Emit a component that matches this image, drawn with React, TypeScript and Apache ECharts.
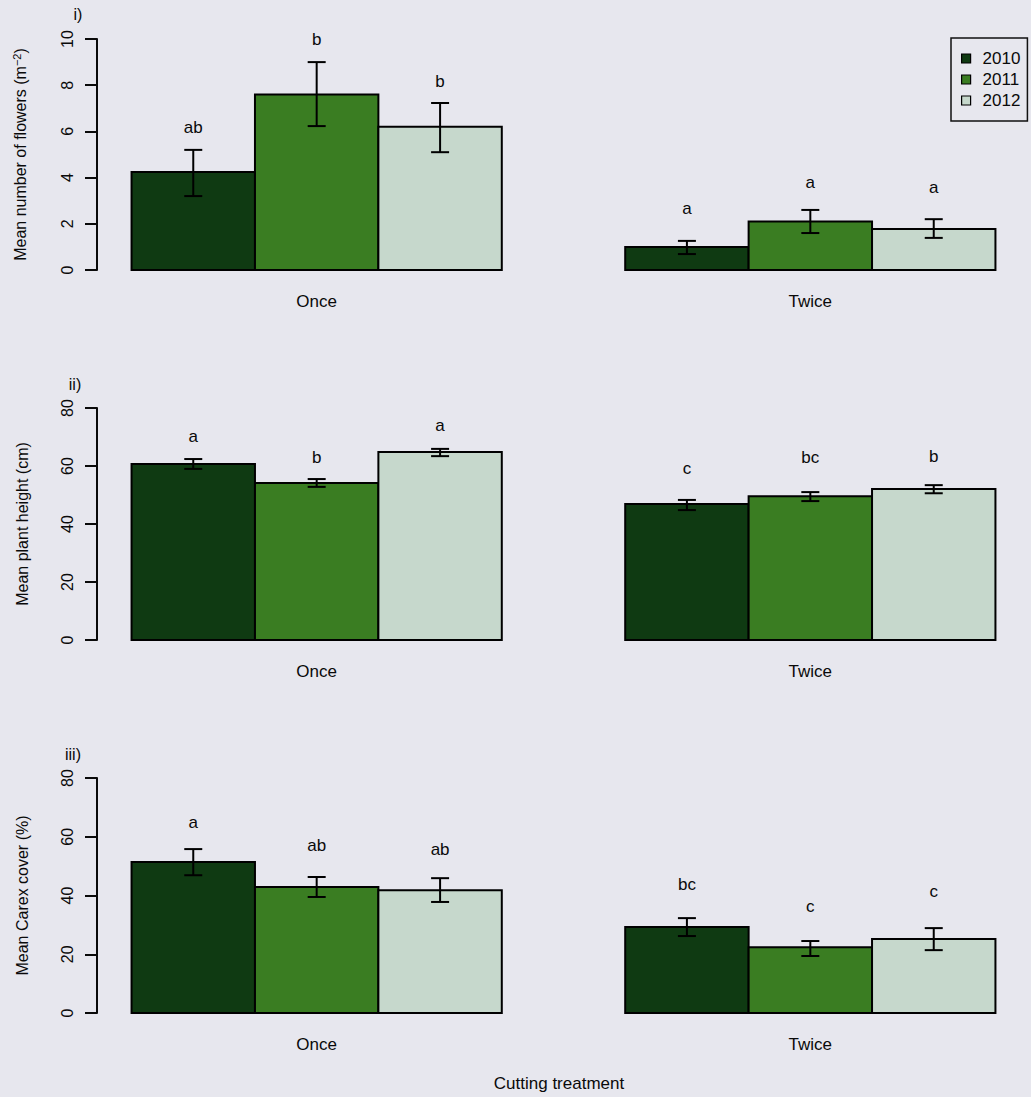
import React, { useEffect, useRef } from "react";
import * as echarts from "echarts";

// ---- data ----
const years = ["2010", "2011", "2012"];
const treatments = ["Once", "Twice"];
const yearColors = ["#0f3a12", "#3a7d22", "#c6d8cc"];

// Panel i) Mean number of flowers (m^-2): [Once, Twice]
const flowersMean = [[4.24, 1.0], [7.6, 2.1], [6.2, 1.77]];
const flowersLo = [[3.2, 0.69], [6.23, 1.6], [5.1, 1.39]];
const flowersHi = [[5.2, 1.26], [9.0, 2.6], [7.23, 2.2]];
const flowersLetters = [["ab", "a"], ["b", "a"], ["b", "a"]];
const flowersLetterY = [[6.15, 2.68], [10.0, 3.77], [8.18, 3.55]];

// Panel ii) Mean plant height (cm)
const heightMean = [[60.7, 46.9], [54.1, 49.6], [64.8, 52.1]];
const heightLo = [[59.0, 44.8], [52.8, 47.9], [63.4, 50.6]];
const heightHi = [[62.4, 48.3], [55.5, 51.0], [65.9, 53.4]];
const heightLetters = [["a", "c"], ["b", "bc"], ["a", "b"]];
const heightLetterY = [[70.3, 59.3], [63.1, 62.8], [73.8, 63.4]];

// Panel iii) Mean Carex cover (%)
const coverMean = [[51.4, 29.3], [42.9, 22.4], [41.8, 25.2]];
const coverLo = [[46.9, 26.2], [39.5, 19.4], [37.8, 21.4]];
const coverHi = [[55.8, 32.3], [46.3, 24.5], [45.9, 28.9]];
const coverLetters = [["a", "bc"], ["ab", "c"], ["ab", "c"]];
const coverLetterY = [[65.0, 43.6], [56.9, 36.4], [55.5, 41.2]];

const yTicks1 = { min: 0, max: 10, interval: 2 };
const yTicks2 = { min: 0, max: 80, interval: 20 };
const yTicks3 = { min: 0, max: 80, interval: 20 };

const FONT = "'Liberation Sans', Arial, Helvetica, sans-serif";
const INK = "#0a0a0a";

const panels = [
  {
    tag: "i)",
    name: "Mean number of flowers (m{sup|−2})",
    ticks: yTicks1,
    mean: flowersMean, lo: flowersLo, hi: flowersHi,
    letters: flowersLetters, letterY: flowersLetterY,
    grid: { top: 39, height: 231 },
    tagPos: [78, 14],
  },
  {
    tag: "ii)",
    name: "Mean plant height (cm)",
    ticks: yTicks2,
    mean: heightMean, lo: heightLo, hi: heightHi,
    letters: heightLetters, letterY: heightLetterY,
    grid: { top: 408, height: 232 },
    tagPos: [75, 384],
  },
  {
    tag: "iii)",
    name: "Mean Carex cover (%)",
    ticks: yTicks3,
    mean: coverMean, lo: coverLo, hi: coverHi,
    letters: coverLetters, letterY: coverLetterY,
    grid: { top: 778, height: 235 },
    tagPos: [73, 754],
  },
];

// R barplot layout: bar width 1, space c(0,1) -> groups start at 1 and 5
const barLeft = (ti: number, yi: number) => 1 + ti * 4 + yi;
const groupCenter = (ti: number) => 1 + ti * 4 + years.length / 2;

function buildOption() {
  const grids: any[] = [];
  const xAxes: any[] = [];
  const yAxes: any[] = [];
  const series: any[] = [];
  const graphics: any[] = [];

  panels.forEach((p, pi) => {
    grids.push({ left: 97, width: 933, top: p.grid.top, height: p.grid.height });
    const centers = treatments.map((_, ti) => groupCenter(ti));
    xAxes.push({
      gridIndex: pi,
      type: "value",
      min: 0.72,
      max: 8.28,
      axisLine: { show: false },
      axisTick: { show: false },
      splitLine: { show: false },
      axisLabel: {
        show: true,
        customValues: centers,
        formatter: (v: number) => {
          const i = centers.findIndex((c) => Math.abs(c - v) < 1e-6);
          return i >= 0 ? treatments[i] : "";
        },
        fontSize: 17,
        color: INK,
        fontFamily: FONT,
        margin: 23,
      },
    });
    yAxes.push({
      gridIndex: pi,
      type: "value",
      min: p.ticks.min,
      max: p.ticks.max,
      interval: p.ticks.interval,
      axisLine: { show: true, lineStyle: { color: INK, width: 2 } },
      axisTick: { show: true, length: 12, lineStyle: { color: INK, width: 2 } },
      splitLine: { show: false },
      axisLabel: { rotate: 90, fontSize: 16, color: INK, fontFamily: FONT, margin: 22 },
      name: p.name,
      nameLocation: "middle",
      nameGap: 67,
      nameTextStyle: {
        fontSize: 16,
        color: INK,
        fontFamily: FONT,
        rich: { sup: { fontSize: 11, color: INK, fontFamily: FONT, padding: [0, 0, 8, 0] } },
      },
    });

    years.forEach((yr, yi) => {
      const data = treatments.map((_, ti) => [
        barLeft(ti, yi),
        p.mean[yi][ti],
        p.lo[yi][ti],
        p.hi[yi][ti],
        p.letterY[yi][ti],
      ]);
      series.push({
        type: "custom",
        name: yr,
        xAxisIndex: pi,
        yAxisIndex: pi,
        itemStyle: { color: yearColors[yi], borderColor: "#000", borderWidth: 1.5 },
        data,
        renderItem: (params: any, api: any) => {
          const x0 = api.value(0);
          const v = api.value(1);
          const lo = api.value(2);
          const hi = api.value(3);
          const ly = api.value(4);
          const tl = api.coord([x0, v]);
          const br = api.coord([x0 + 1, 0]);
          const xc = api.coord([x0 + 0.5, 0])[0];
          const yl = api.coord([x0, lo])[1];
          const yh = api.coord([x0, hi])[1];
          const lp = api.coord([x0 + 0.5, ly]);
          const cap = 9;
          const ls = { stroke: "#000", lineWidth: 2 };
          return {
            type: "group",
            children: [
              {
                type: "rect",
                shape: { x: tl[0], y: tl[1], width: br[0] - tl[0], height: br[1] - tl[1] },
                style: { fill: yearColors[yi], stroke: "#000", lineWidth: 2 },
              },
              { type: "line", shape: { x1: xc, y1: yl, x2: xc, y2: yh }, style: ls },
              { type: "line", shape: { x1: xc - cap, y1: yl, x2: xc + cap, y2: yl }, style: ls },
              { type: "line", shape: { x1: xc - cap, y1: yh, x2: xc + cap, y2: yh }, style: ls },
              {
                type: "text",
                x: lp[0],
                y: lp[1],
                style: {
                  text: p.letters[yi][params.dataIndex],
                  fill: INK,
                  font: `17px ${FONT}`,
                  align: "center",
                  verticalAlign: "middle",
                },
              },
            ],
          };
        },
      });
    });

    graphics.push({
      type: "text",
      x: p.tagPos[0],
      y: p.tagPos[1],
      style: { text: p.tag, fill: INK, font: `16px ${FONT}`, align: "center", verticalAlign: "middle" },
    });
  });

  graphics.push({
    type: "text",
    x: 559,
    y: 1083,
    style: {
      text: "Cutting treatment",
      fill: INK,
      font: `17px ${FONT}`,
      align: "center",
      verticalAlign: "middle",
    },
  });

  return {
    animation: false,
    backgroundColor: "#e7e7ee",
    grid: grids,
    xAxis: xAxes,
    yAxis: yAxes,
    series,
    graphic: graphics,
    legend: {
      data: years,
      orient: "vertical",
      left: 951,
      top: 38,
      icon: "rect",
      itemWidth: 9,
      itemHeight: 9,
      itemGap: 4,
      itemStyle: { borderColor: "#000", borderWidth: 1.2 },
      padding: [12, 7, 12, 10],
      borderColor: "#111",
      borderWidth: 1.5,
      selectedMode: false,
      textStyle: { fontSize: 17, color: INK, fontFamily: FONT, lineHeight: 17, padding: [0, 0, 0, 7] },
    },
  };
}

export default function App() {
  const ref = useRef<HTMLDivElement>(null);
  useEffect(() => {
    if (!ref.current) return;
    const chart = echarts.init(ref.current, null, { renderer: "svg" });
    chart.setOption(buildOption() as any);
    return () => chart.dispose();
  }, []);
  return (
    <div
      ref={ref}
      style={{ position: "absolute", left: 0, top: 0, width: 1031, height: 1097 }}
    />
  );
}
